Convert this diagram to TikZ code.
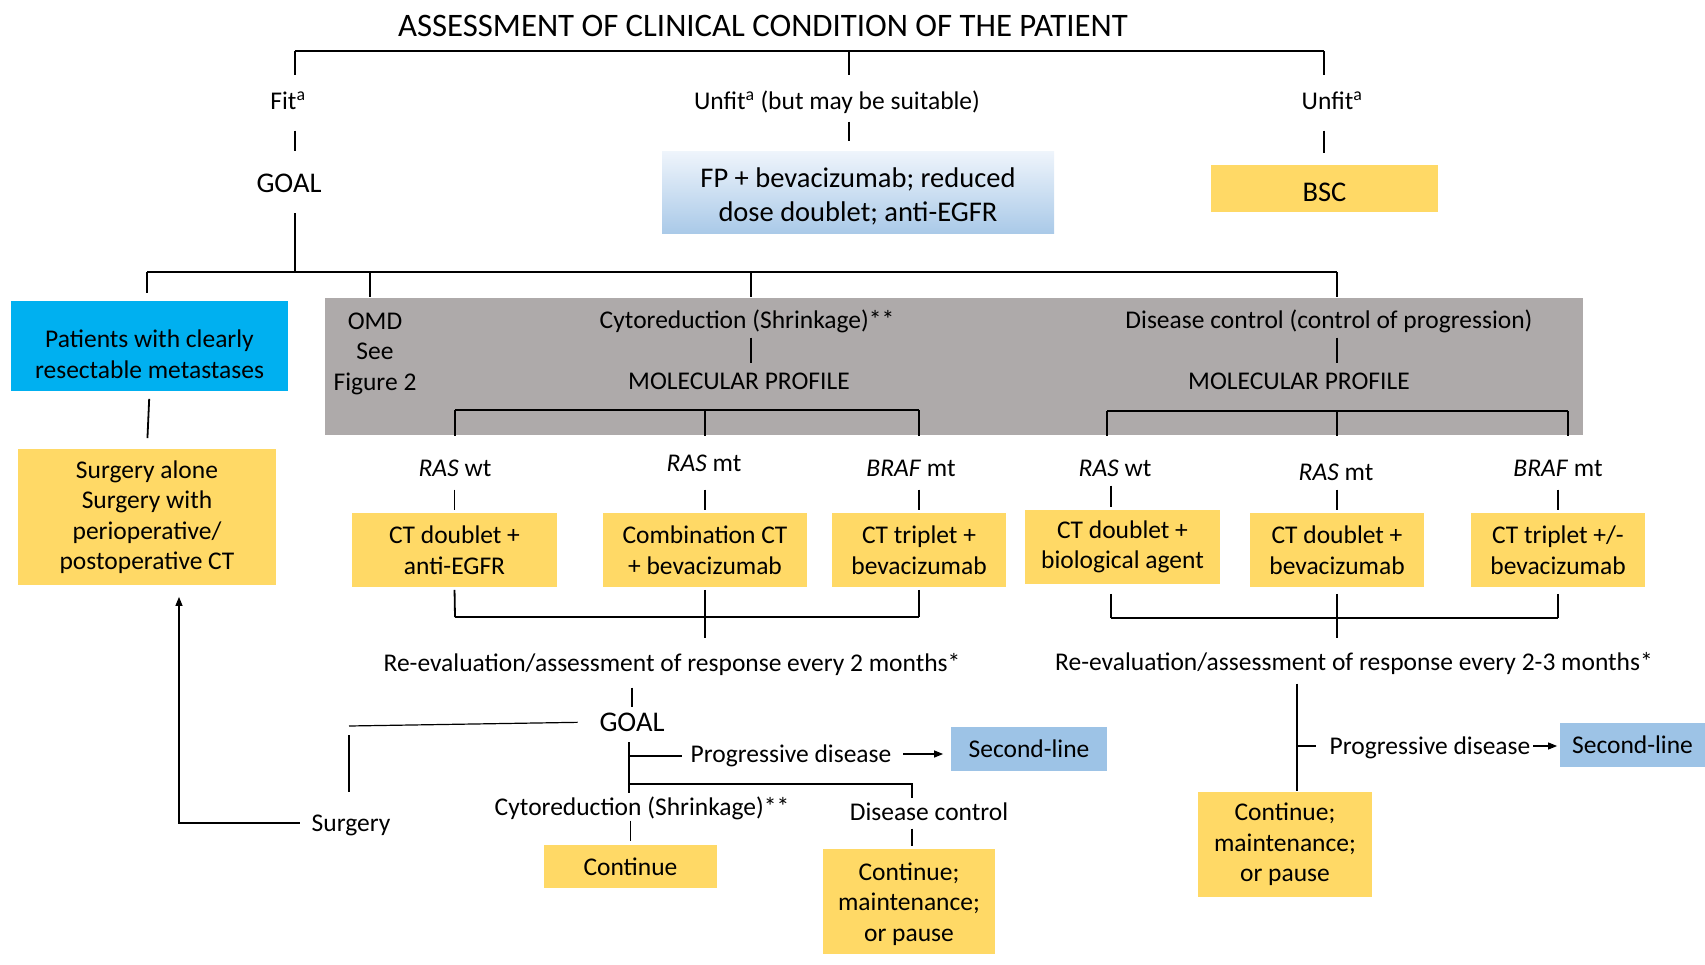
\documentclass[tikz,border=0pt]{standalone}
\usepackage{fontspec}
\setmainfont{Carlito}
\usetikzlibrary{arrows.meta}
\definecolor{boxyellow}{HTML}{FFD966}
\definecolor{boxcyan}{HTML}{00B0F0}
\definecolor{boxgray}{HTML}{AEAAAA}
\definecolor{boxblue}{HTML}{9DC3E6}
\definecolor{fptop}{HTML}{EEF4FB}
\definecolor{fpbot}{HTML}{A9C9E8}
\newcommand{\bodyfs}{\fontsize{25.5}{30.5}\selectfont}
\newcommand{\bigfs}{\fontsize{28.5}{34}\selectfont}
\newcommand{\titlefs}{\fontsize{32.8}{38}\selectfont}
\newcommand{\droprule}[1]{\rule{0pt}{#1}}

\begin{document}
\begin{tikzpicture}[x=1pt,y=-1pt,line width=1.8pt]
\tikzstyle{every node}+=[inner sep=0pt]
\tikzstyle{lbl}=[font=\bodyfs,text height=21.2pt,text depth=4.3pt]
\tikzstyle{biglbl}=[font=\bigfs,text height=23.7pt,text depth=4.8pt]
\tikzstyle{plainbox}=[font=\bodyfs,align=center]
\tikzstyle{ybox}=[plainbox,fill=boxyellow]
\tikzstyle{tip}=[-{Triangle[length=9pt,width=7pt]}]
\useasboundingbox (0,0) rectangle (1705,965);

\node[font=\titlefs] (title) at (763,26) {ASSESSMENT OF CLINICAL CONDITION OF THE PATIENT};
\node[lbl] (fit) at (288,101) {Fit\textsuperscript{a}};
\node[lbl] (unfitsuit) at (837,101) {Unfit\textsuperscript{a} (but may be suitable)};
\node[lbl] (unfit) at (1332,101) {Unfit\textsuperscript{a}};
\node[biglbl] (goal) at (289,183) {GOAL};
\node[plainbox,font=\bigfs,top color=fptop,bottom color=fpbot,minimum width=392pt,minimum height=82pt] (fpbox) at (858,193) {\droprule{26pt}FP + bevacizumab; reduced\\dose doublet; anti-EGFR};
\node[plainbox,font=\bigfs,fill=boxyellow,minimum width=227pt,minimum height=47pt] (bsc) at (1324.5,188.5) {\droprule{27pt}BSC};

\node[plainbox,fill=boxcyan,minimum width=277pt,minimum height=90pt] (resect) at (149.5,346) {\droprule{34pt}Patients with clearly\\resectable metastases};
\node[ybox,minimum width=258pt,minimum height=136pt] (surgbox) at (147,517) {Surgery alone\\Surgery with\\perioperative/\\postoperative CT};
\node[fill=boxgray,minimum width=1258pt,minimum height=137pt] (grayback) at (954,366.5) {};
\node[plainbox] (omd) at (375,350) {\droprule{24pt}OMD\\See\\Figure 2};
\node[lbl] (cyto) at (747,320) {Cytoreduction (Shrinkage)**};
\node[lbl] (molA) at (739,381) {MOLECULAR PROFILE};
\node[lbl] (dc) at (1329,320) {Disease control (control of progression)};
\node[lbl] (molB) at (1299,381) {MOLECULAR PROFILE};

\node[lbl] (rwtA) at (455,468) {\textit{RAS} wt};
\node[lbl] (rmtA) at (704,463) {\textit{RAS} mt};
\node[lbl] (bmtA) at (911,468) {\textit{BRAF} mt};
\node[lbl] (rwtB) at (1115,468) {\textit{RAS} wt};
\node[lbl] (rmtB) at (1336,472) {\textit{RAS} mt};
\node[lbl] (bmtB) at (1558,468) {\textit{BRAF} mt};

\node[ybox,minimum width=205pt,minimum height=74pt] (cdA) at (454.5,550) {CT doublet +\\anti-EGFR};
\node[ybox,minimum width=204pt,minimum height=74pt] (combA) at (705,550) {Combination CT\\+ bevacizumab};
\node[ybox,minimum width=174pt,minimum height=74pt] (ctA) at (919,550) {CT triplet +\\bevacizumab};
\node[ybox,minimum width=195pt,minimum height=74pt] (bioB) at (1122.5,547) {CT doublet +\\biological agent};
\node[ybox,minimum width=174pt,minimum height=74pt] (cdB) at (1337,550) {CT doublet +\\bevacizumab};
\node[ybox,minimum width=174pt,minimum height=74pt] (ctB) at (1558,550) {CT triplet +/-\\bevacizumab};

\node[lbl] (reevA) at (672,663) {Re-evaluation/assessment of response every 2 months*};
\node[lbl] (reevB) at (1354,662) {Re-evaluation/assessment of response every 2-3 months*};
\node[biglbl] (goal2) at (632,722) {GOAL};
\node[lbl] (surg) at (351,823) {Surgery};
\node[lbl] (prog) at (791,754) {Progressive disease};
\node[plainbox,fill=boxblue,minimum width=156pt,minimum height=44pt] (sec1) at (1029,749) {Second-line};
\node[lbl] (cyto2) at (642,807) {Cytoreduction (Shrinkage)**};
\node[lbl] (dc2) at (929,812) {Disease control};
\node[ybox,minimum width=173pt,minimum height=43pt] (contA) at (630.5,866.5) {Continue};
\node[ybox,minimum width=172pt,minimum height=105pt] (contB) at (909,901.5) {\droprule{23pt}Continue;\\maintenance;\\or pause};
\node[lbl] (prog2) at (1430,746) {Progressive disease};
\node[plainbox,fill=boxblue,minimum width=145pt,minimum height=44pt] (sec2) at (1632.5,745) {Second-line};
\node[ybox,minimum width=174pt,minimum height=105pt] (contC) at (1285,844.5) {Continue;\\maintenance;\\or pause};

\coordinate (t1) at (295,51);
\coordinate (t2) at (849,51);
\coordinate (t3) at (1324,51);
\coordinate (s0) at (295,272);
\coordinate (s1) at (147,272);
\coordinate (s2) at (370,272);
\coordinate (s3) at (751,272);
\coordinate (s4) at (1337,272);
\coordinate (ma1) at (455,410);
\coordinate (ma2) at (705,410);
\coordinate (ma3) at (919,410);
\coordinate (mb1) at (1107,411);
\coordinate (mb2) at (1337,411);
\coordinate (mb3) at (1568,411);
\coordinate (ra1) at (455,617);
\coordinate (ra2) at (705,617);
\coordinate (ra3) at (919,617);
\coordinate (rb1) at (1111,618);
\coordinate (rb2) at (1337,618);
\coordinate (rb3) at (1558,618);
\coordinate (sl) at (349,726);
\coordinate (pv) at (629,756);
\coordinate (dv) at (629,784);
\coordinate (dcc) at (912,784);
\coordinate (rv) at (1297,746);

\draw (t1) -- (t3);
\draw[shorten >=12pt] (t1) -- (t1 |- fit.north);
\draw[shorten >=12pt] (t2) -- (t2 |- unfitsuit.north);
\draw[shorten >=12pt] (t3) -- (t3 |- unfit.north);
\draw[shorten <=16pt,shorten >=17pt] (t1 |- fit.south) -- (t1 |- goal.north);
\draw[shorten <=7pt,shorten >=10pt] (t2 |- unfitsuit.south) -- (t2 |- fpbox.north);
\draw[shorten <=16pt,shorten >=11pt] (t3 |- unfit.south) -- (t3 |- bsc.north);
\draw[shorten <=15pt] (t1 |- goal.south) -- (s0);

\draw (s1) -- (s4);
\draw[shorten >=7pt] (s1) -- (s1 |- resect.north);
\draw (s2) -- (s2 |- grayback.north);
\draw (s3) -- (s3 |- grayback.north);
\draw (s4) -- (s4 |- grayback.north);
\draw[shorten <=7pt,shorten >=10pt] (resect.south) -- (surgbox.north);
\draw[shorten <=4pt,shorten >=4pt] (s3 |- cyto.south) -- (s3 |- molA.north);
\draw[shorten <=4pt,shorten >=4pt] (s4 |- dc.south) -- (s4 |- molB.north);

\draw (ma1) -- (ma3);
\draw (ma1) -- (ma1 |- grayback.south);
\draw (ma2) -- (ma2 |- grayback.south);
\draw (ma3) -- (ma3 |- grayback.south);
\draw (mb1) -- (mb3);
\draw (mb1) -- (mb1 |- grayback.south);
\draw (mb2) -- (mb2 |- grayback.south);
\draw (mb3) -- (mb3 |- grayback.south);

\draw[shorten <=8pt,shorten >=2pt] (cdA.north |- rwtA.south) -- (cdA.north);
\draw[shorten <=13pt,shorten >=2pt] (combA.north |- rmtA.south) -- (combA.north);
\draw[shorten <=8pt,shorten >=2pt] (ctA.north |- bmtA.south) -- (ctA.north);
\draw[shorten <=4pt,shorten >=2pt] (rb1 |- rwtB.south) -- (rb1 |- bioB.north);
\draw[shorten <=4pt,shorten >=2pt] (cdB.north |- rmtB.south) -- (cdB.north);
\draw[shorten <=8pt,shorten >=2pt] (ctB.north |- bmtB.south) -- (ctB.north);

\draw[shorten <=2pt] (cdA.south) -- (ra1);
\draw[shorten <=2pt] (combA.south) -- (ra2);
\draw[shorten <=2pt] (ctA.south) -- (ra3);
\draw (ra1) -- (ra3);
\draw[shorten >=11pt] (ra2) -- (ra2 |- reevA.north);
\draw[shorten <=9pt] (rb1 |- bioB.south) -- (rb1);
\draw[shorten <=6pt] (cdB.south) -- (rb2);
\draw[shorten <=6pt] (ctB.south) -- (rb3);
\draw (rb1) -- (rb3);
\draw[shorten >=10pt] (rb2) -- (rb2 |- reevB.north);

\draw[shorten <=11pt] (goal2.north |- reevA.south) -- (goal2.north);
\draw[line width=1.2pt,shorten <=21pt] (goal2.west) -- (sl);
\draw[shorten <=9pt,shorten >=17pt] (sl) -- (sl |- surg.north);
\draw[tip,line width=1.2pt,shorten <=11pt,shorten >=11pt] (surg.west) -| ([xshift=32pt]surgbox.south);
\draw[shorten <=5pt] (goal2.south -| pv) -- (pv |- cyto2.north);
\draw[line width=1.2pt,shorten >=8pt] (pv) -- (pv -| prog.west);
\draw[tip,line width=1.2pt,shorten <=11pt,shorten >=7pt] (prog.east) -- (prog.east -| sec1.west);
\draw[line width=1.2pt] (dv) -- (dcc) -- (dcc |- dc2.north);
\draw[shorten <=3pt,shorten >=2pt] (dcc |- dc2.south) -- (dcc |- contB.north);
\draw[shorten >=3pt] (contA.north |- cyto2.south) -- (contA.north);

\draw[line width=1.1pt,shorten <=8pt] (rv |- reevB.south) -- (rv |- contC.north);
\draw[line width=1.1pt,shorten >=13pt] (rv) -- (rv -| prog2.west);
\draw[tip,line width=1.1pt,shorten <=2pt,shorten >=2pt] (prog2.east) -- (prog2.east -| sec2.west);
\end{tikzpicture}
\end{document}
